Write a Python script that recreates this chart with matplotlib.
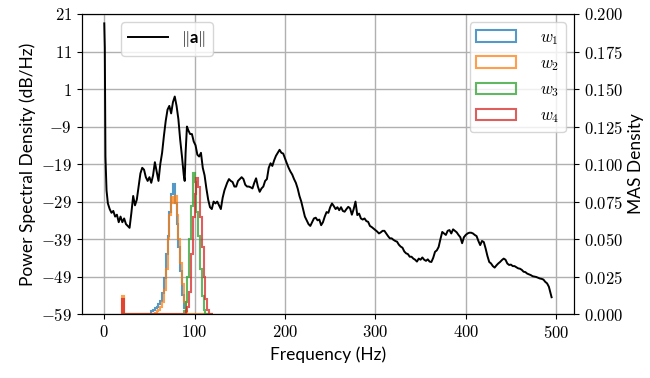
import matplotlib
matplotlib.use('Agg')
import matplotlib.pyplot as plt
from matplotlib.ticker import FuncFormatter, MultipleLocator
import numpy as np

plt.rcParams['mathtext.fontset'] = 'cm'
plt.rcParams['font.family'] = ['Lato', 'DejaVu Sans']

# power spectral density of ||a|| (Hz, dB/Hz)
freq = [0, 0.6, 1.3, 2.5, 4, 6, 8, 10, 12, 14, 16, 18, 20, 22, 24, 26, 28, 30, 32, 34,
        36, 38, 40, 42, 44, 46, 48, 50, 52, 54, 56, 58, 60, 62, 64, 66, 68, 70, 72, 74,
        76, 78, 80, 82, 84, 86, 88, 89, 90, 91.5, 93, 95, 97, 99, 101, 103, 105, 107, 109, 111,
        113, 115, 117, 119, 121, 123, 125, 127, 129, 131, 133, 136, 138, 140, 142, 144, 146, 148, 150, 152,
        154, 156, 158, 160, 162, 164, 166, 168, 170, 172, 174, 176, 178, 180, 182, 184, 186, 188, 190, 192,
        194, 196, 198, 200, 202, 204, 206, 208, 210, 212, 214, 216, 218, 220, 222, 224, 226, 228, 230, 232,
        234, 236, 238, 240, 242, 244, 246, 248, 250, 252, 254, 256, 258, 260, 262, 264, 266, 268, 270, 272,
        274, 276, 278, 280, 282, 284, 286, 288, 290, 292, 294, 296, 298, 300, 302, 304, 306, 308, 310, 312,
        314, 316, 318, 320, 322, 324, 326, 328, 330, 332, 334, 336, 338, 340, 342, 344, 346, 348, 350, 352,
        354, 356, 358, 360, 362, 364, 366, 368, 370, 372, 374, 376, 378, 380, 382, 384, 386, 388, 390, 392,
        394, 396, 398, 400, 402, 404, 406, 408, 410, 412, 414, 416, 418, 420, 422, 424, 426, 428, 430, 432,
        434, 436, 438, 440, 442, 444, 446, 448, 450, 452, 454, 456, 458, 460, 462, 464, 466, 468, 470, 472,
        474, 476, 478, 480, 482, 484, 486, 488, 490, 492, 494, 495]
psd = [18.5, 12, -17, -26, -29.5, -31, -32, -31.5, -33, -32.5, -34.5, -33, -34.5, -33.5, -35, -35.5, -36, -32, -27.5, -30,
       -28.5, -25, -21.5, -20, -20.5, -22.5, -23.5, -22.5, -24, -22, -18.5, -21, -23.5, -19, -16, -11.5, -7.5, -4.5, -3.5, -5.5,
       -2.5, -1, -3.5, -7, -12.5, -17, -22, -23.5, -16, -9, -10, -11, -11, -13, -14, -16.5, -17, -16, -20, -22,
       -25.5, -28.5, -30.5, -31, -29, -29.5, -29, -30, -31, -28, -26, -24, -23, -23.5, -23.8, -25, -25, -23.5, -23, -22.5,
       -23, -24.5, -25, -25, -25.2, -25.5, -24, -22.8, -25, -26.4, -25.5, -25, -23.5, -23, -20, -18.8, -19.5, -18, -16.8, -16,
       -15.2, -16, -16.2, -17.5, -18.8, -20, -21, -21.8, -23, -24, -25.5, -27.5, -29, -31, -33, -34, -35, -35.5, -34.5, -33.5,
       -33.3, -34, -33.8, -35.3, -34.5, -33, -31.8, -32, -30.5, -29.5, -30.2, -31, -30.5, -31.3, -30.5, -31.5, -31.7, -31, -30.4, -30.8,
       -32.5, -31, -29, -32.6, -32.2, -33.5, -33.8, -33.5, -34.2, -34.4, -35.5, -35.8, -36.2, -36.6, -37, -37.5, -37.2, -36.8, -36.8, -37.5,
       -38.2, -38.8, -38.8, -39.2, -39.5, -39.7, -40.5, -41, -41.3, -42.3, -42.8, -43, -43.7, -43.7, -44.2, -44.5, -45, -44.2, -44.5, -43.9,
       -44.5, -44.8, -44.4, -45, -45.1, -44, -42.4, -42, -41.1, -39, -37.1, -37.5, -37.9, -36.8, -36.6, -37.5, -36.4, -36.8, -37.2, -37.9,
       -38.5, -40.1, -38.5, -37.9, -37.5, -37.3, -37.3, -37.5, -37.9, -38.2, -39.5, -40.6, -39.5, -39.8, -41.5, -43.5, -45.1, -45.5, -46.2, -46.6,
       -46, -45.5, -45.1, -44.6, -44.2, -44.5, -45.5, -45.9, -45.8, -46.2, -46.2, -46.5, -46.8, -46.9, -47.2, -47.7, -47.8, -48.2, -48.4, -48.6,
       -48.9, -49, -49.1, -49.3, -49.5, -49.6, -49.8, -50.4, -50.8, -51.7, -53.5, -54.5]

# MAS density histograms, 2 Hz bins from 20 to 120 Hz
bin_edges = np.arange(20, 122, 2)
# (first bin start, densities of consecutive bins)
w1_start, w1 = 52, [0.002, 0.003, 0.004, 0.005, 0.007, 0.009, 0.014, 0.024, 0.040, 0.052,
                    0.068, 0.080, 0.087, 0.074, 0.060, 0.045, 0.029, 0.013, 0.004]
w2_start, w2 = 56, [0.001, 0.002, 0.003, 0.005, 0.008, 0.016, 0.030, 0.050, 0.066, 0.078,
                    0.074, 0.079, 0.066, 0.050, 0.034, 0.020, 0.008, 0.002]
w3_start, w3 = 88, [0.002, 0.008, 0.025, 0.050, 0.072, 0.094, 0.088, 0.068, 0.052, 0.030,
                    0.012, 0.003]
w4_start, w4 = 90, [0.002, 0.005, 0.015, 0.040, 0.065, 0.080, 0.091, 0.085, 0.065, 0.045,
                    0.025, 0.010, 0.003]
spike = {'w2': 0.012, 'w4': 0.010}   # small peak in the 20-22 Hz bin

hist_labels = [r'$w_1$', r'$w_2$', r'$w_3$', r'$w_4$']
hist_colors = ['tab:blue', 'tab:orange', 'tab:green', 'tab:red']


def full_bins(start, vals, spike_val=0.0):
    out = np.zeros(len(bin_edges) - 1)
    i0 = int((start - bin_edges[0]) // 2)
    out[i0:i0 + len(vals)] = vals
    out[0] += spike_val
    return out


series = [full_bins(w1_start, w1),
          full_bins(w2_start, w2, spike['w2']),
          full_bins(w3_start, w3),
          full_bins(w4_start, w4, spike['w4'])]
centers = (bin_edges[:-1] + bin_edges[1:]) / 2

fig = plt.figure(figsize=(6.5, 3.78), dpi=100)
ax = fig.add_axes([0.126, 0.169, 0.757, 0.794])

ax.plot(freq, psd, color='black', linewidth=1.4, label=r'$\|$a$\|$')
ax.set_ylim(-59, 21)
ax.yaxis.set_major_locator(MultipleLocator(10, offset=1))
ax.grid(True, color='#b0b0b0', linewidth=1.0)
ax.set_xlabel('Frequency (Hz)', fontsize=12.5)
ax.set_ylabel('Power Spectral Density (dB/Hz)', fontsize=12.5)

tex_fmt = FuncFormatter(lambda v, p: r'$%g$' % round(v, 3))
ax.xaxis.set_major_formatter(tex_fmt)
ax.yaxis.set_major_formatter(tex_fmt)
ax.tick_params(labelsize=12)

ax2 = ax.twinx()
for vals, lab, col in zip(series, hist_labels, hist_colors):
    ax2.hist(centers, bins=bin_edges, weights=vals, histtype='step',
             color=col, alpha=0.75, linewidth=1.5, label=lab)
ax2.set_ylim(0, 0.2)
ax2.yaxis.set_major_locator(MultipleLocator(0.025))
ax2.yaxis.set_major_formatter(FuncFormatter(lambda v, p: r'$%.3f$' % v))
ax2.tick_params(labelsize=12)
ax2.set_ylabel('MAS Density', fontsize=12.5)

ax.legend(loc='upper left', bbox_to_anchor=(0.063, 1.0),
          prop={'weight': 'bold', 'size': 12}, handlelength=2.4)
ax2.legend(loc='upper right', fontsize=12, handlelength=2.4,
           handletextpad=1.4)

fig.savefig('out.png', dpi=100)
plt.close(fig)
